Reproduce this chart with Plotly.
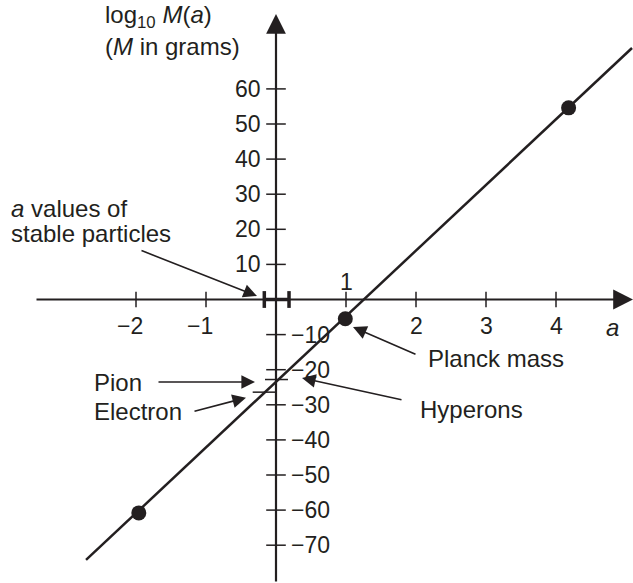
import plotly.graph_objects as go

# --- data -------------------------------------------------------------
# straight line log10 M(a) versus a (end points of the drawn segment)
line_a = [-2.714, 5.086]
line_logM = [-74.2, 71.65]

# highlighted points on the line
dot_a = [-1.96, 0.99, 4.18]
dot_logM = [-60.8, -5.5, 54.6]

# axis ticks
x_ticks = [-2, -1, 1, 2, 3, 4]
x_tick_labels = ["\u22122", "\u22121", "1", "2", "3", "4"]
y_ticks = [60, 50, 40, 30, 20, 10, -10, -20, -30, -40, -50, -60, -70]
y_tick_labels = ["60", "50", "40", "30", "20", "10", "\u221210", "\u221220",
                 "\u221230", "\u221240", "\u221250", "\u221260", "\u221270"]

# range of a for the stable particles (marked on the a axis)
stable_a = [-0.167, 0.186]

# mass levels of particles, short horizontal bars [a_start, a_end, logM]
pion_level = [-0.157, 0.171, -22.8]
electron_level = [-0.333, -0.005, -26.4]

# --- page geometry ----------------------------------------------------
W, H = 633, 583
X0_PX, X_SCALE = 276.0, 70.0      # pixel of a=0, pixels per unit a
Y0_PX, Y_SCALE = 299.5, 3.51      # pixel of logM=0, pixels per unit logM


def A(px):
    return (px - X0_PX) / X_SCALE


def M(py):
    return (Y0_PX - py) / Y_SCALE


INK = "#231f20"
FONT = "Liberation Sans, Arial, Helvetica, sans-serif"
TXT = 24     # note text size
TICK = 23    # tick label size

fig = go.Figure()

# main line
fig.add_trace(go.Scatter(x=line_a, y=line_logM, mode="lines",
                         line=dict(color=INK, width=2.5), hoverinfo="skip"))

# particle mass levels
for lvl in (pion_level, electron_level):
    fig.add_trace(go.Scatter(x=[lvl[0], lvl[1]], y=[lvl[2], lvl[2]], mode="lines",
                             line=dict(color=INK, width=1.5), hoverinfo="skip"))

# tick marks on both axes
fig.add_trace(go.Scatter(x=x_ticks, y=[0] * len(x_ticks), mode="markers",
                         marker=dict(symbol="line-ns", size=11,
                                     line=dict(color=INK, width=1.5)),
                         hoverinfo="skip"))
fig.add_trace(go.Scatter(x=[0] * len(y_ticks), y=y_ticks, mode="markers",
                         marker=dict(symbol="line-ew", size=14,
                                     line=dict(color=INK, width=1.5)),
                         hoverinfo="skip"))

# stable particle range on the a axis
fig.add_trace(go.Scatter(x=stable_a, y=[0, 0], mode="lines+markers",
                         line=dict(color=INK, width=3.5),
                         marker=dict(symbol="line-ns", size=12,
                                     line=dict(color=INK, width=3.5)),
                         hoverinfo="skip"))

# dots
fig.add_trace(go.Scatter(x=dot_a, y=dot_logM, mode="markers",
                         marker=dict(color=INK, size=15), hoverinfo="skip"))

ann = []


def arrow(tail, tip, width=1.6, size=1.7, head=2):
    ann.append(dict(x=A(tip[0]), y=M(tip[1]), ax=A(tail[0]), ay=M(tail[1]),
                    xref="x", yref="y", axref="x", ayref="y", text="",
                    showarrow=True, arrowhead=head, arrowsize=size,
                    arrowwidth=width, arrowcolor=INK, standoff=0))


def label(text, px, py, anchor="left", size=TXT):
    ann.append(dict(x=A(px), y=M(py), xref="x", yref="y", text=text,
                    showarrow=False, xanchor=anchor, yanchor="middle",
                    font=dict(family=FONT, size=size, color=INK)))


# axes with arrow heads
arrow((35, Y0_PX), (633, Y0_PX), width=2.2, size=1.8, head=2)
arrow((X0_PX, 583), (X0_PX, 14), width=2.2, size=1.8, head=2)

# tick labels
for t, s in zip(x_ticks, x_tick_labels):
    if t == 1:
        ann.append(dict(x=t, y=0, xref="x", yref="y", text=s, showarrow=False,
                        yshift=18, font=dict(family=FONT, size=TICK, color=INK)))
    else:
        ann.append(dict(x=t, y=0, xref="x", yref="y", text=s, showarrow=False,
                        yshift=-26, xshift=-6 if t < 0 else 0,
                        font=dict(family=FONT, size=TICK, color=INK)))
for t, s in zip(y_ticks, y_tick_labels):
    ann.append(dict(x=0, y=t, xref="x", yref="y", text=s, showarrow=False,
                    xanchor="right" if t > 0 else "left",
                    xshift=-13 if t > 0 else 13,
                    font=dict(family=FONT, size=TICK, color=INK)))
label("<i>a</i>", 604, 327)

# axis title
label("log<sub>10</sub> <i>M</i>(<i>a</i>)", 103, 16)
label("(<i>M</i> in grams)", 103, 46)

# explanatory notes
label("<i>a</i> values of", 9, 208)
label("stable particles", 9, 233)
arrow((140, 250), (257, 296))

label("Planck mass", 426, 358)
arrow((417, 355), (353, 327))

label("Hyperons", 418, 409)
arrow((403, 400), (302, 378))

label("Pion", 92, 382)
arrow((157, 382), (255, 382))

label("Electron", 92, 411)
arrow((193, 411.7), (246, 397.7))

fig.update_layout(
    width=W, height=H,
    margin=dict(l=0, r=0, t=0, b=0),
    paper_bgcolor="white", plot_bgcolor="white",
    showlegend=False,
    xaxis=dict(visible=False, range=[A(0), A(W)], fixedrange=True),
    yaxis=dict(visible=False, range=[M(H), M(0)], fixedrange=True),
    annotations=ann,
)

fig.write_html("out.html")
